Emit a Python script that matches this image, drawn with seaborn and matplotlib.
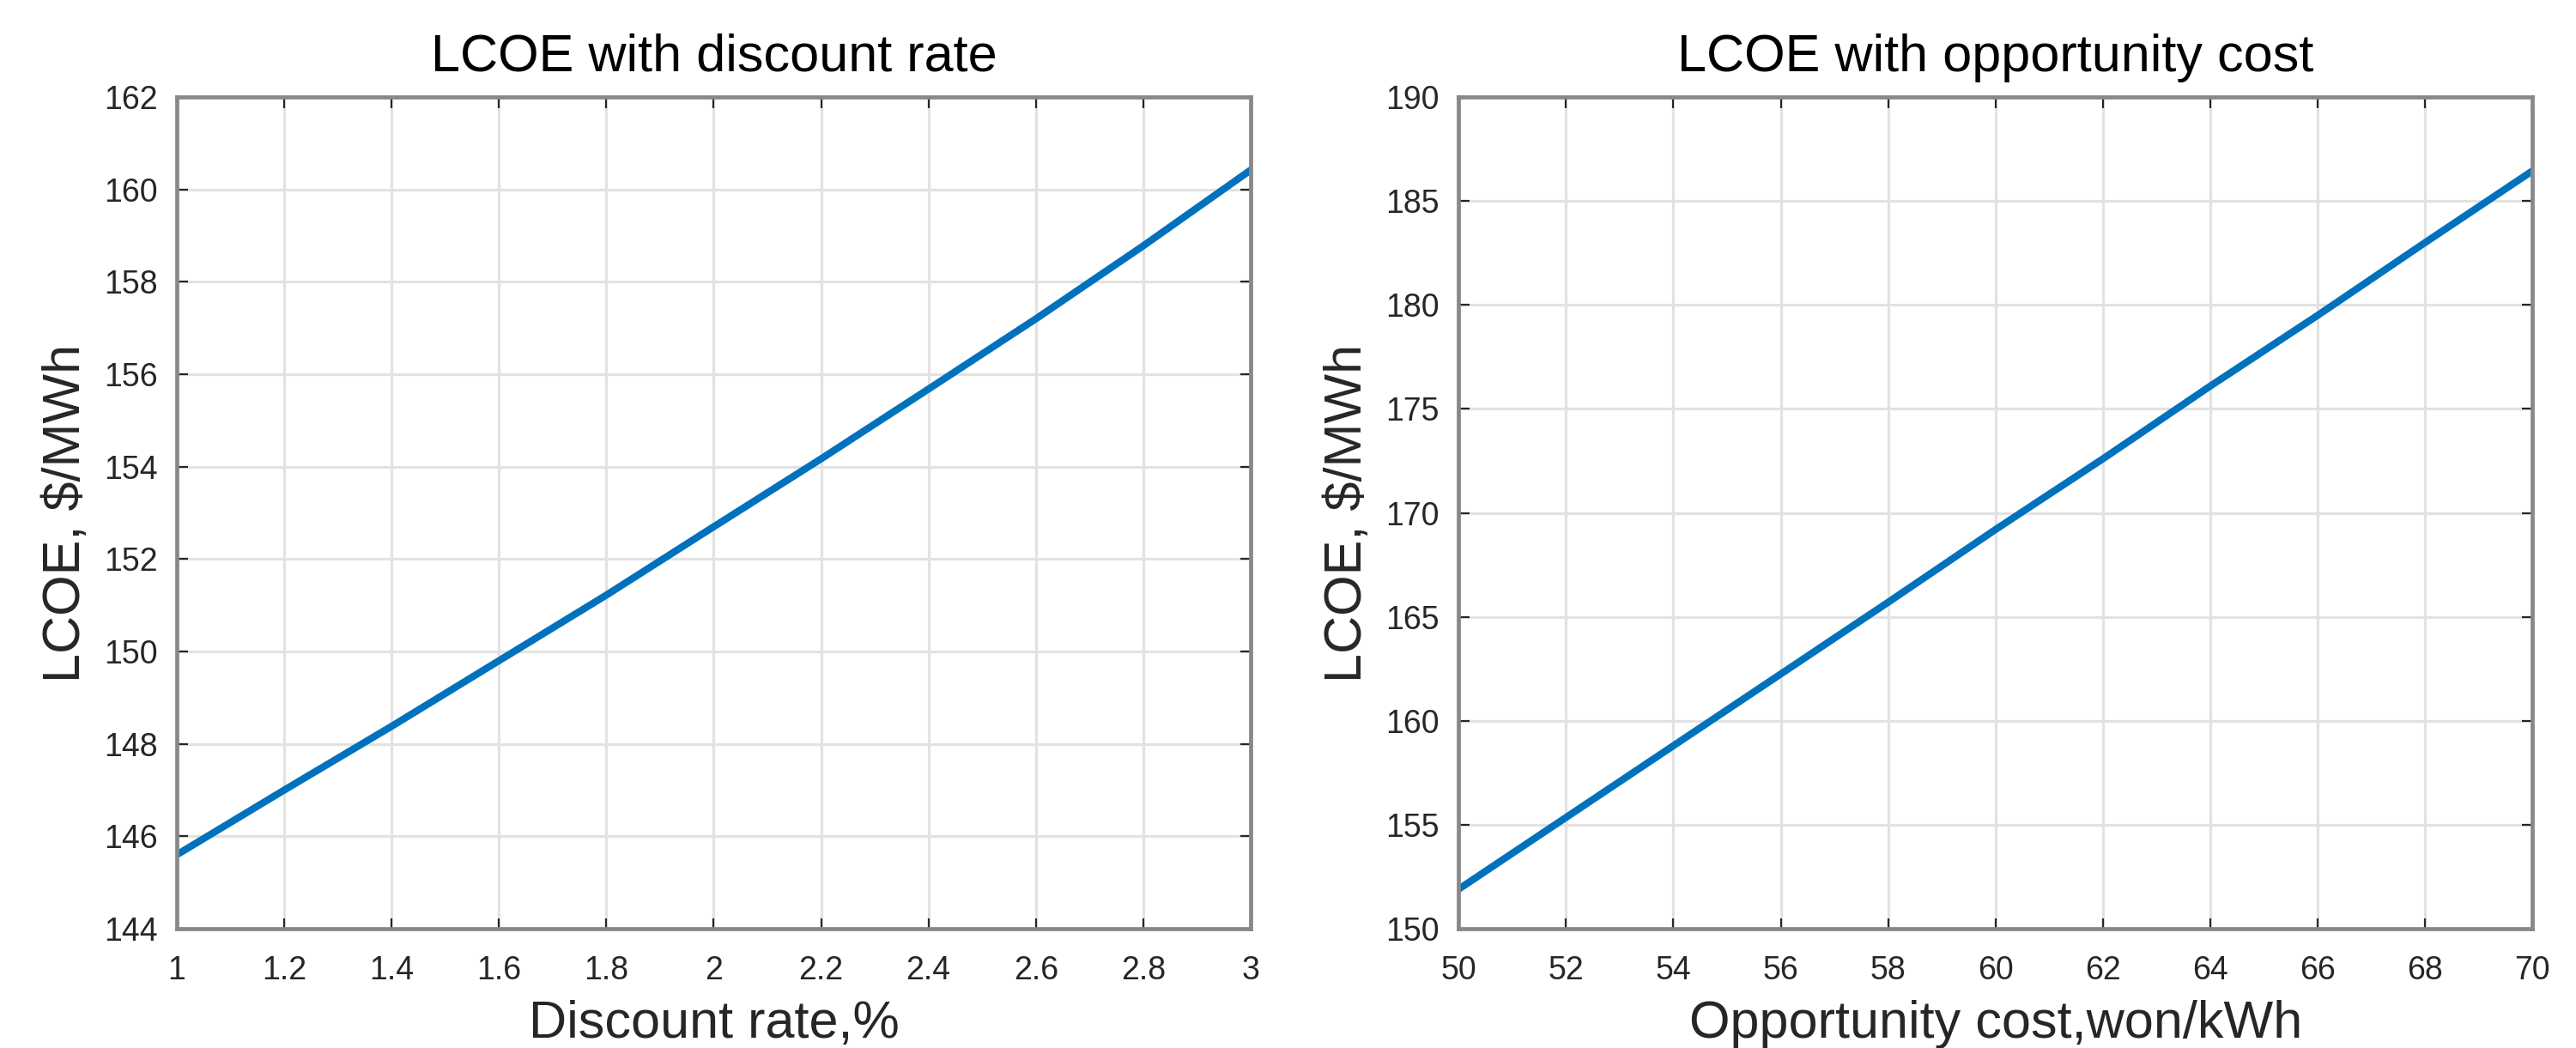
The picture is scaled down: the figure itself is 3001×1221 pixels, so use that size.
import matplotlib
matplotlib.use("Agg")
import matplotlib.pyplot as plt
import seaborn as sns

# data
discount_rate = [1.0, 1.2, 1.4, 1.6, 1.8, 2.0, 2.2, 2.4, 2.6, 2.8, 3.0]
lcoe_discount = [145.6, 147.0, 148.38, 149.8, 151.22, 152.7, 154.17, 155.68, 157.2, 158.78, 160.42]

opp_cost = [50, 52, 54, 56, 58, 60, 62, 64, 66, 68, 70]
lcoe_opp = [151.9, 155.35, 158.8, 162.25, 165.7, 169.2, 172.6, 176.1, 179.5, 183.0, 186.45]

left_ticks = [1, 1.2, 1.4, 1.6, 1.8, 2, 2.2, 2.4, 2.6, 2.8, 3]
left_yticks = [144, 146, 148, 150, 152, 154, 156, 158, 160, 162]
right_ticks = [50, 52, 54, 56, 58, 60, 62, 64, 66, 68, 70]
right_yticks = [150, 155, 160, 165, 170, 175, 180, 185, 190]

sns.set_theme(style="whitegrid")
plt.rcParams['font.family'] = ['Liberation Sans', 'DejaVu Sans']

fig, axes = plt.subplots(1, 2, figsize=(30.01, 12.21), dpi=100)
fig.patch.set_facecolor("white")

blue = "#0072BD"

def style(ax, xt, yt, xlim, ylim, title, xlabel):
    ax.set_facecolor("white")
    ax.set_xlim(xlim)
    ax.set_ylim(ylim)
    ax.set_xticks(xt)
    ax.set_xticklabels([("%g" % t) for t in xt])
    ax.set_yticks(yt)
    ax.set_yticklabels([("%g" % t) for t in yt])
    ax.grid(True, color="#e2e2e2", linewidth=2.3)
    ax.set_axisbelow(True)
    for s in ax.spines.values():
        s.set_visible(True)
        s.set_color("#888888")
        s.set_linewidth(3.4)
    ax.tick_params(axis="both", which="both", direction="in", length=9, width=1.6,
                   color="#262626", labelsize=27, labelcolor="#262626",
                   top=True, right=True, bottom=True, left=True, pad=16)
    ax.tick_params(axis="x", pad=22)
    ax.set_title(title, fontsize=44, color="black", pad=22)
    ax.set_xlabel(xlabel, fontsize=44, color="#262626", labelpad=12)
    ax.set_ylabel("LCOE, $/MWh", fontsize=44, color="#262626", labelpad=11)

ax = axes[0]
sns.lineplot(x=discount_rate, y=lcoe_discount, ax=ax, color=blue, linewidth=6)
style(ax, left_ticks, left_yticks, (1, 3), (144, 162),
      "LCOE with discount rate", "Discount rate,%")

ax = axes[1]
sns.lineplot(x=opp_cost, y=lcoe_opp, ax=ax, color=blue, linewidth=6)
style(ax, right_ticks, right_yticks, (50, 70), (150, 190),
      "LCOE with opportunity cost", "Opportunity cost,won/kWh")

axes[0].set_position([0.0686, 0.1138, 0.4169, 0.7936])
axes[1].set_position([0.5662, 0.1138, 0.4169, 0.7936])

fig.savefig("out.png", dpi=100)
